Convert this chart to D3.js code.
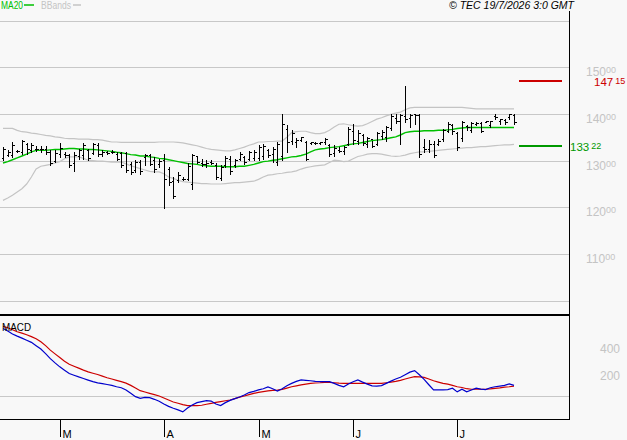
<!DOCTYPE html>
<html>
<head>
<meta charset="utf-8">
<script src="https://cdn.jsdelivr.net/npm/d3@7"></script>
<style>
  body { margin: 0; background: #f8f8f8; }
  svg { display: block; font-family: "Liberation Sans", Arial, sans-serif; }
</style>
</head>
<body>
<div id="chart"></div>
<script>
// daily OHLC (bar 0 = mid February)
var barOpen = [130.6,131.3,131.2,132.1,131.8,133.5,132.3,132.6,132.5,132.4,
  131.9,130.0,131.5,131.5,131.2,129.5,131.0,131.2,132.2,131.7,
  133.4,131.4,131.8,131.8,131.5,131.6,131.6,129.2,128.0,129.8,
  130.7,131.2,130.2,129.3,130.2,128.3,125.6,125.8,126.1,126.0,
  125.0,130.9,129.6,129.3,129.7,129.0,126.2,129.0,130.4,129.0,
  130.4,130.7,130.4,130.6,130.5,131.0,132.3,131.5,129.8,131.0,
  136.8,134.2,134.1,134.5,134.0,133.7,133.8,133.7,133.9,133.3,
  131.6,132.2,132.0,133.6,136.4,134.3,135.6,133.6,134.6,133.6,
  135.2,135.0,137.0,139.2,138.6,139.5,139.2,140.0,139.8,133.0,
  132.4,133.6,133.6,134.6,136.4,137.6,136.0,134.8,137.4,136.6,
  137.8,138.0,138.3,137.6,139.6,138.4,138.8,139.3,139.8];
var barHigh = [133.0,132.2,134.0,132.3,134.5,133.8,133.8,133.1,133.1,133.1,
  132.2,132.2,133.8,131.9,131.5,131.9,132.6,133.8,132.6,133.8,
  133.8,132.2,132.1,132.2,131.9,131.9,131.9,129.7,130.1,130.1,
  131.5,131.5,130.8,130.4,131.5,128.7,126.5,127.6,126.5,129.4,
  131.5,131.0,130.4,130.1,130.1,129.4,129.0,130.9,130.9,130.4,
  131.8,131.1,132.1,132.2,133.3,133.6,132.6,132.9,134.0,140.1,
  137.6,136.6,134.9,135.1,134.3,134.0,134.0,134.0,134.9,133.6,
  133.3,132.9,133.1,137.2,137.9,136.5,135.8,135.1,134.3,136.1,
  136.5,137.5,140.1,140.1,140.1,146.1,140.1,140.1,140.1,134.7,
  134.5,134.3,134.7,136.8,138.3,137.9,136.1,138.5,137.6,138.3,
  138.3,138.3,138.5,138.6,140.1,139.0,139.0,140.1,140.1];
var barLow = [130.1,131.1,130.8,131.9,131.5,131.5,131.9,132.1,131.9,131.5,
  129.0,129.7,130.8,130.8,128.6,127.8,130.4,130.4,130.1,131.5,
  131.1,131.1,131.5,131.6,130.1,128.6,127.6,127.2,127.5,127.2,
  129.0,129.0,127.6,128.7,119.8,124.7,121.9,125.4,125.8,125.8,
  124.0,129.5,128.8,128.7,129.3,126.0,125.8,128.6,127.2,128.6,
  130.1,129.3,130.1,130.1,130.1,130.4,130.8,129.7,129.0,130.1,
  131.8,133.6,132.9,134.3,130.1,133.6,133.6,133.6,133.6,131.1,
  131.1,131.8,131.5,133.3,133.6,133.6,133.3,132.9,132.9,133.3,
  134.7,134.2,136.5,138.0,133.6,138.3,137.2,137.9,130.8,131.8,
  131.8,130.8,133.3,134.3,136.1,135.8,132.2,134.3,136.5,136.1,
  137.6,136.1,138.3,137.2,139.0,137.9,137.9,139.0,137.9];
var barClose = [132.6,131.9,133.4,132.0,134.2,132.4,133.4,132.5,132.4,131.9,
  129.6,131.7,132.8,131.2,129.0,131.2,132.2,133.4,130.5,133.6,
  131.4,131.9,131.7,131.9,130.3,129.0,128.0,127.6,129.8,127.8,
  131.2,129.3,128.2,130.0,126.0,125.5,122.5,127.0,126.0,128.9,
  131.2,129.8,129.2,129.6,129.6,126.4,128.7,130.6,127.8,130.1,
  131.5,129.8,131.8,131.9,133.0,133.2,131.2,132.6,133.5,137.8,
  134.0,135.9,134.5,135.0,130.4,133.9,133.7,133.9,134.7,131.5,
  132.7,132.0,132.9,136.8,134.4,136.0,133.8,134.8,133.2,135.9,
  136.2,137.2,139.6,138.5,139.8,139.0,139.8,139.7,131.5,132.5,
  133.5,131.2,134.3,136.5,137.9,136.4,133.0,138.2,137.2,138.0,
  138.1,136.4,138.4,138.4,139.3,138.9,138.2,139.9,138.3];

var ma20 = [129.5,129.8,130.2,130.6,131.0,131.4,131.9,132.2,132.2,132.2,
  132.3,132.4,132.4,132.5,132.6,132.6,132.5,132.5,132.4,132.4,
  132.3,132.2,132.1,132.0,131.8,131.7,131.5,131.3,131.2,131.0,
  131.0,130.8,130.7,130.5,130.4,130.2,130.0,129.8,129.6,129.4,
  129.3,129.2,129.0,128.9,128.8,128.8,128.8,128.7,128.7,128.7,
  128.8,128.8,129.0,129.2,129.5,129.8,129.9,130.1,130.2,130.4,
  130.6,130.8,130.9,131.1,131.4,131.9,132.3,132.5,132.6,132.8,
  132.9,133.0,133.2,133.4,133.6,133.7,133.9,134.1,134.3,134.4,
  134.5,134.7,134.9,135.1,135.5,136.0,136.2,136.3,136.3,136.4,
  136.4,136.4,136.5,136.5,136.6,136.7,136.9,137.0,137.1,137.1,
  137.1,137.1,137.1,137.1,137.1,137.1,137.1,137.1,137.1];
var bbUpper = [136.9,136.9,136.9,136.5,136.2,136.1,135.9,135.8,135.6,135.4,
  135.3,135.1,135.0,134.8,134.7,134.7,134.6,134.6,134.6,134.5,
  134.5,134.4,134.2,134.0,134.0,133.9,133.9,133.9,133.9,133.9,
  133.9,133.9,133.9,134.0,134.0,134.0,134.0,133.9,133.8,133.6,
  133.4,133.2,132.9,132.6,132.4,132.3,132.2,132.1,132.1,132.3,
  132.6,132.9,133.3,133.6,134.0,134.0,134.1,134.1,134.2,134.2,
  135.0,136.0,136.2,136.3,136.3,136.0,135.8,135.8,136.0,136.5,
  137.2,137.8,137.9,137.7,137.5,137.4,137.5,137.9,138.4,138.9,
  139.2,139.6,139.9,140.2,140.4,140.9,141.3,141.4,141.4,141.4,
  141.4,141.4,141.4,141.4,141.4,141.4,141.4,141.4,141.3,141.2,
  141.1,141.1,141.1,141.1,141.1,141.1,141.1,141.1,141.1];
var bbLower = [121.5,122.0,122.6,123.3,124.0,125.0,126.5,128.2,128.8,129.0,
  129.2,129.5,129.8,130.4,130.8,130.8,130.8,130.5,130.1,130.0,
  129.9,129.9,129.8,129.7,129.7,129.7,129.3,128.9,128.6,128.3,
  128.0,127.7,127.6,127.6,127.2,126.5,126.2,125.8,125.5,125.4,
  125.3,125.2,125.1,125.1,125.0,125.0,125.0,125.1,125.2,125.3,
  125.3,125.4,125.5,125.6,126.0,126.5,126.9,127.0,127.2,127.3,
  127.5,127.6,127.8,128.2,128.5,128.7,128.9,129.0,129.1,129.6,
  130.1,130.0,129.8,129.9,130.4,130.9,131.1,131.4,131.5,131.5,
  131.4,131.2,131.0,130.9,131.0,131.2,131.5,131.7,131.9,131.9,
  132.0,132.1,132.2,132.3,132.4,132.5,132.6,132.7,132.8,132.8,
  132.9,133.0,133.0,133.1,133.2,133.3,133.4,133.4,133.5];

var macdLine = [510,490,468,452,437,421,405,380,355,320,
  282,250,220,195,170,157,144,132,120,108,
  99,93,87,80,70,62,46,20,-5,-18,
  -10,-12,-25,-40,-60,-78,-92,-105,-120,-90,
  -68,-50,-42,-35,-38,-60,-72,-50,-33,-20,
  -8,8,26,35,46,55,69,55,38,55,
  77,95,110,121,118,115,110,108,108,108,
  95,80,69,90,108,121,105,90,76,74,
  78,95,112,128,141,160,180,192,160,125,
  85,46,46,46,48,59,31,51,31,45,
  59,52,48,62,70,75,80,92,80];
var macdSignal = [525,515,500,485,474,462,448,432,410,380,
  346,318,290,262,240,225,210,195,182,172,
  162,150,138,128,118,108,97,80,60,40,
  30,20,10,0,-15,-30,-45,-55,-65,-72,
  -72,-72,-70,-62,-55,-48,-42,-36,-30,-20,
  -8,0,10,20,28,33,38,42,44,50,
  60,70,77,84,90,95,98,100,103,103,
  100,97,95,95,95,95,95,95,95,95,
  95,100,105,110,118,128,138,146,145,141,
  128,115,105,95,90,80,70,64,55,51,
  51,51,51,54,58,62,67,70,74];

var monthLabels = ["M", "A", "M", "J", "J"];
var monthStart = [12, 34, 54, 74, 96];
var priceTicks = [100, 110, 120, 130, 140, 150, 160];
var priceLabels = [110, 120, 130, 140, 150];
var macdTicks = [200, 400];
var resistance = 147.15;
var support = 133.22;

var W = 627, H = 440;
var svg = d3.select("#chart").append("svg")
    .attr("width", W).attr("height", H);

svg.append("rect").attr("width", W).attr("height", H).attr("fill", "#f8f8f8");

var x = d3.scaleLinear().domain([0, barClose.length - 1]).range([3, 514]);
var y = d3.scaleLinear().domain([100, 150]).range([300.7, 67.3]);
var ym = d3.scaleLinear().domain([0, 400]).range([396, 343]);

var px = function(i) { return Math.round(x(i)) + 0.5; };

// price gridlines
svg.append("g").selectAll("line")
    .data(priceTicks)
    .enter().append("line")
    .attr("x1", 0).attr("x2", 569)
    .attr("y1", function(d) { return Math.round(y(d)) + 0.5; })
    .attr("y2", function(d) { return Math.round(y(d)) + 0.5; })
    .attr("stroke", "#c8c8c8");

// price labels with small decimals
var pl = svg.append("g").selectAll("text")
    .data(priceLabels)
    .enter().append("text")
    .attr("x", 586)
    .attr("y", function(d) { return y(d) + 9; })
    .attr("fill", "#c4c4c4")
    .attr("font-size", 12);
pl.append("tspan").text(function(d) { return d; });
pl.append("tspan").attr("font-size", 9).attr("dy", -3).text("00");

// bollinger bands + MA20
var line = function(arr, sc) {
  return d3.line()
    .x(function(d, i) { return x(i); })
    .y(function(d) { return sc(d); })(arr);
};
svg.append("path").attr("d", line(bbUpper, y))
    .attr("fill", "none").attr("stroke", "#c4c4c4").attr("stroke-width", 1.2);
svg.append("path").attr("d", line(bbLower, y))
    .attr("fill", "none").attr("stroke", "#c4c4c4").attr("stroke-width", 1.2);
svg.append("path").attr("d", line(ma20, y))
    .attr("fill", "none").attr("stroke", "#00c000").attr("stroke-width", 1.4);

// OHLC bars
svg.append("g").selectAll("path")
    .data(barClose)
    .enter().append("path")
    .attr("d", function(d, i) {
      var xx = px(i);
      var yo = Math.round(y(barOpen[i])) + 0.5, yc = Math.round(y(d)) + 0.5;
      return "M" + xx + "," + Math.round(y(barHigh[i])) + "V" + (Math.round(y(barLow[i])) + 1) +
        "M" + (xx - 2) + "," + yo + "H" + xx +
        "M" + xx + "," + yc + "H" + (xx + 2);
    })
    .attr("fill", "none")
    .attr("stroke", "#000")
    .attr("stroke-width", 1)
    .attr("shape-rendering", "crispEdges");

// resistance / support markers
var levels = [{v: resistance, c: "#cc0000", lx: 594}, {v: support, c: "#009900", lx: 570}];
levels.forEach(function(l) {
  svg.append("line")
      .attr("x1", 519).attr("x2", 562)
      .attr("y1", Math.round(y(l.v))).attr("y2", Math.round(y(l.v)))
      .attr("stroke", l.c).attr("stroke-width", 2);
  var parts = l.v.toFixed(2).split(".");
  var t = svg.append("text")
      .attr("x", l.lx).attr("y", y(l.v) + 5.5)
      .attr("fill", l.c).attr("font-size", 11.5);
  t.append("tspan").text(parts[0]);
  t.append("tspan").attr("dx", 2).attr("dy", -2).attr("font-size", 9).text(parts[1]);
});

// frame
svg.append("line").attr("x1", 569.5).attr("x2", 569.5).attr("y1", 11).attr("y2", 420)
    .attr("stroke", "#000");
svg.append("line").attr("x1", 0).attr("x2", 570).attr("y1", 315).attr("y2", 315)
    .attr("stroke", "#000").attr("stroke-width", 2);
svg.append("line").attr("x1", 0).attr("x2", 570).attr("y1", 419.5).attr("y2", 419.5)
    .attr("stroke", "#000");

// MACD panel
svg.append("line").attr("x1", 0).attr("x2", 569).attr("y1", ym(0) + 0.5).attr("y2", ym(0) + 0.5)
    .attr("stroke", "#c8c8c8");
svg.append("g").selectAll("text")
    .data(macdTicks)
    .enter().append("text")
    .attr("x", 600)
    .attr("y", function(d) { return ym(d) + 10; })
    .attr("fill", "#c4c4c4")
    .attr("font-size", 12)
    .text(function(d) { return d; });
svg.append("path").attr("d", line(macdSignal, ym))
    .attr("fill", "none").attr("stroke", "#cc0000").attr("stroke-width", 1.2);
svg.append("path").attr("d", line(macdLine, ym))
    .attr("fill", "none").attr("stroke", "#0000cc").attr("stroke-width", 1.2);
svg.append("text").attr("x", 2).attr("y", 331).attr("font-size", 10.5)
    .attr("textLength", 29).attr("lengthAdjust", "spacingAndGlyphs")
    .attr("fill", "#000").text("MACD");

// month ticks
var mt = svg.append("g").selectAll("g")
    .data(monthLabels)
    .enter().append("g")
    .attr("transform", function(d, i) { return "translate(" + (Math.round(x(monthStart[i])) + 0.5) + ",0)"; });
mt.append("line").attr("y1", 419).attr("y2", 437).attr("stroke", "#000");
mt.append("text").attr("x", 2).attr("y", 438).attr("font-size", 11)
    .attr("fill", "#000").text(function(d) { return d; });

// legend + credit
svg.append("text").attr("x", 1).attr("y", 9).attr("font-size", 10.5)
    .attr("textLength", 22).attr("lengthAdjust", "spacingAndGlyphs")
    .attr("fill", "#00c000").text("MA20");
svg.append("line").attr("x1", 24).attr("x2", 34).attr("y1", 5).attr("y2", 5)
    .attr("stroke", "#00c000").attr("stroke-width", 1.5);
svg.append("text").attr("x", 41).attr("y", 9).attr("font-size", 10.5)
    .attr("textLength", 30).attr("lengthAdjust", "spacingAndGlyphs")
    .attr("fill", "#c4c4c4").text("BBands");
svg.append("line").attr("x1", 73).attr("x2", 81).attr("y1", 5).attr("y2", 5)
    .attr("stroke", "#c4c4c4").attr("stroke-width", 1.5);
svg.append("text").attr("x", 449).attr("y", 9).attr("font-size", 10)
    .attr("textLength", 125).attr("lengthAdjust", "spacingAndGlyphs")
    .attr("font-style", "italic").attr("fill", "#000")
    .text("© TEC 19/7/2026 3:0 GMT");
</script>
</body>
</html>
